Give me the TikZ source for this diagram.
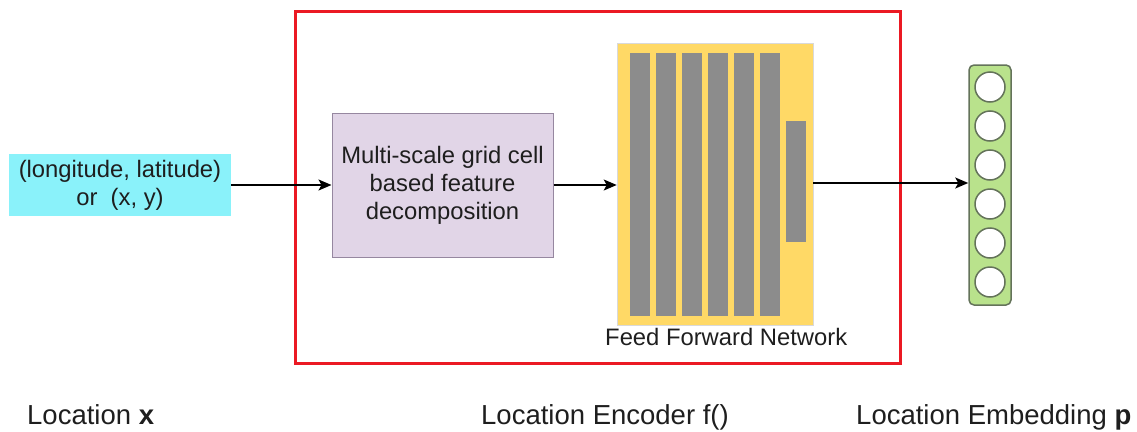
\documentclass[tikz,border=0pt]{standalone}
\usepackage{fontspec}
\setmainfont{Liberation Sans}
\usetikzlibrary{arrows.meta}
\definecolor{inputcyan}{RGB}{138,242,250}
\definecolor{decfill}{RGB}{225,213,231}
\definecolor{decdraw}{RGB}{150,135,160}
\definecolor{ffnfill}{RGB}{255,217,102}
\definecolor{ffnbar}{RGB}{140,140,140}
\definecolor{embfill}{RGB}{185,226,140}
\definecolor{embdraw}{RGB}{100,115,90}
\definecolor{encred}{RGB}{235,25,35}
\definecolor{txt}{RGB}{30,30,30}
\begin{document}
\begin{tikzpicture}[x=1pt,y=-1pt,
  boxtext/.style={font=\fontsize{23.8}{28}\selectfont, text=txt, align=center, inner sep=0pt},
  caption/.style={font=\fontsize{27.5}{32}\selectfont, text=txt, inner sep=0pt, anchor=base west},
  flow/.style={line width=1.5pt, draw=black, -{Stealth[length=13pt,width=11pt,inset=3pt]}},
  bar/.style={fill=ffnbar, draw=none},
  unit/.style={circle, draw=embdraw, line width=1.5pt, fill=white, minimum size=30pt, inner sep=0pt}]
\useasboundingbox (0,0) rectangle (1137,431);

% encoder frame
\draw[encred, line width=3pt] (295,11) rectangle (900,363);

% input location
\node[boxtext, fill=inputcyan, minimum width=222pt, minimum height=62pt] (loc) at (120,185)
  {(longitude, latitude)\\or\ \ (x, y)};

% grid cell decomposition
\node[boxtext, fill=decfill, draw=decdraw, line width=1pt, minimum width=221pt, minimum height=144pt] (dec) at (442.5,185)
  {Multi-scale grid cell\\based feature\\decomposition};

% feed forward network with its layers
\node[fill=ffnfill, draw=black!15, line width=0.6pt, minimum width=196pt, minimum height=282pt, inner sep=0pt] (ffn) at (715,184) {};
\foreach \i in {0,...,5}{
  \fill[bar] ({630+26*\i},53) rectangle ({649.5+26*\i},316);
}
\fill[bar] (786,121) rectangle (806,242);
\node[boxtext, anchor=base west] (ffnlabel) at (605,345) {Feed Forward Network};

% embedding vector
\node[fill=embfill, draw=embdraw, line width=1.5pt, rounded corners=5pt, minimum width=42pt, minimum height=240pt, inner sep=0pt] (emb) at (990,185) {};
\foreach \i in {0,...,5}{
  \node[unit] (u\i) at (990,{87+39*\i}) {};
}

% connectors
\draw[flow] (loc.east) -- (dec.west);
\draw[flow] (dec.east) -- (dec.east -| ffn.west);
\draw[flow] (ffn.east |- 0,183) -- (emb.west |- 0,183);

% captions
\node[caption] (capx) at (27,424) {Location \textbf{x}};
\node[caption] (capf) at (481,424) {Location Encoder f()};
\node[caption] (capp) at (856,424) {Location Embedding \textbf{p}};
\end{tikzpicture}
\end{document}
